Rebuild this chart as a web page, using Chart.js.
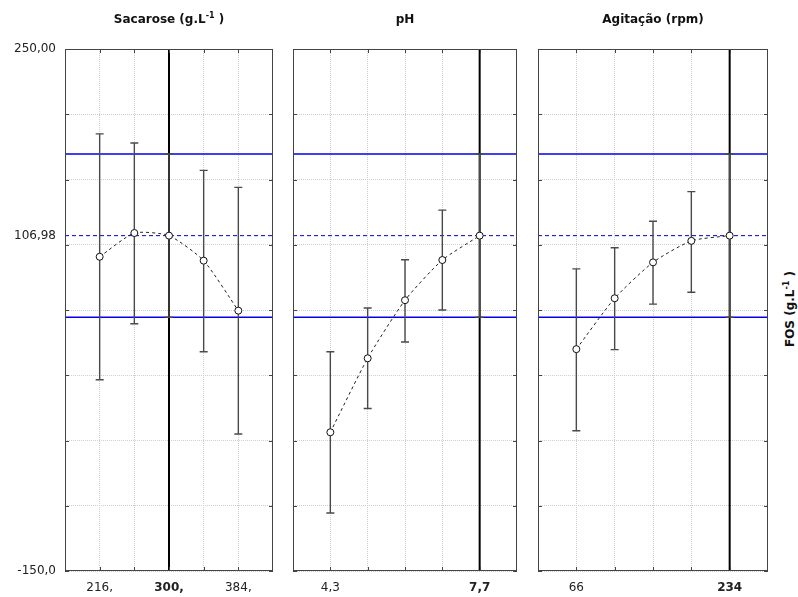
<!DOCTYPE html>
<html>
<head>
<meta charset="utf-8">
<script src="https://cdn.jsdelivr.net/npm/chart.js@4.4.1/dist/chart.umd.min.js"></script>
<style>
  body { margin: 0; background: #fff; }
  #wrap { position: relative; width: 798px; height: 597px; font-family: "DejaVu Sans", sans-serif; }
  #wrap canvas { position: absolute; top: 0; }
  .ttl { position: absolute; top: 12px; font-weight: bold; font-size: 12px; color: #111; text-align: center; white-space: nowrap; }
  .ttl sup { font-size: 8px; vertical-align: 5px; line-height: 0; }
  #ylab { position: absolute; left: 790px; top: 309px; transform: translate(-50%, -50%) rotate(-90deg); font-weight: bold; font-size: 12px; color: #111; white-space: nowrap; }
  #ylab sup { font-size: 8px; vertical-align: 5px; line-height: 0; }
</style>
</head>
<body>
<div id="wrap">
  <canvas id="c1" width="276" height="597" style="left:0px"></canvas>
  <canvas id="c2" width="230" height="597" style="left:290px"></canvas>
  <canvas id="c3" width="236" height="597" style="left:535px"></canvas>
  <div class="ttl" style="left:65px;width:208px">Sacarose (g.L<sup>-1</sup> )</div>
  <div class="ttl" style="left:293px;width:224px">pH</div>
  <div class="ttl" style="left:538px;width:230px">Agitação (rpm)</div>
  <div id="ylab">FOS (g.L<sup>-1</sup> )</div>
</div>
<script>
// Data
const yMin = -150, yMax = 250;
const yGrid = [-150, -100, -50, 0, 50, 100, 150, 200, 250];
const yLabels = { 250: '250,00', 106.98: '106,98', '-150': '-150,0' };
const fosMean = 106.98;
const ciUpper = 169.5;
const ciLower = 44.5;

// Sacarose (g.L-1)
const sacX = [216, 258, 300, 342, 384];
const sacY = [90.8, 109, 106.98, 87.8, 49.5];
const sacHi = [185, 178, 169.5, 157, 144];
const sacLo = [-3.5, 39.5, 44.5, 18, -45];
const sacLabels = { 216: '216,', 300: '300,', 384: '384,' };

// pH
const phX = [4.3, 5.15, 6.0, 6.85, 7.7];
const phY = [-43.7, 13, 57.5, 88.3, 106.98];
const phHi = [18, 51.5, 88.5, 126.5, 169.5];
const phLo = [-105.5, -25.5, 25.5, 50, 44.5];
const phLabels = { 4.3: '4,3', 7.7: '7,7' };

// Agitação (rpm)
const agiX = [66, 108, 150, 192, 234];
const agiY = [20, 59, 86.5, 103, 106.98];
const agiHi = [81.5, 97.7, 118, 140.7, 169.5];
const agiLo = [-42.5, 19.6, 54.5, 63.6, 44.5];
const agiLabels = { 66: '66', 234: '234' };

const FONT = '"DejaVu Sans", sans-serif';

// frame + inward tick marks
const framePlugin = {
  id: 'frame',
  afterDraw(chart) {
    const { ctx, chartArea: a, scales: { x, y } } = chart;
    ctx.save();
    ctx.strokeStyle = '#444';
    ctx.lineWidth = 1;
    ctx.strokeRect(a.left + 0.5, a.top + 0.5, a.right - a.left - 1, a.bottom - a.top - 1);
    ctx.beginPath();
    yGrid.forEach(v => {
      const py = Math.round(y.getPixelForValue(v)) + 0.5;
      ctx.moveTo(a.left, py); ctx.lineTo(a.left + 4, py);
      ctx.moveTo(a.right - 4, py); ctx.lineTo(a.right, py);
    });
    chart.options.xVals.forEach(v => {
      const px = Math.round(x.getPixelForValue(v)) + 0.5;
      ctx.moveTo(px, a.top); ctx.lineTo(px, a.top + 4);
      ctx.moveTo(px, a.bottom - 4); ctx.lineTo(px, a.bottom);
    });
    ctx.stroke();
    ctx.restore();
  }
};

// error bars, drawn right after the current-level line (dataset 1)
const errPlugin = {
  id: 'errbars',
  afterDatasetDraw(chart, args) {
    if (args.index !== 1) return;
    const { ctx, scales: { x, y } } = chart;
    const o = chart.options;
    ctx.save();
    ctx.strokeStyle = '#4a4a4a';
    ctx.lineWidth = 1.4;
    ctx.beginPath();
    o.xVals.forEach((v, i) => {
      const px = x.getPixelForValue(v);
      const hi = y.getPixelForValue(o.hi[i]);
      const lo = y.getPixelForValue(o.lo[i]);
      ctx.moveTo(px, hi); ctx.lineTo(px, lo);
      ctx.moveTo(px - 4, hi); ctx.lineTo(px + 4, hi);
      ctx.moveTo(px - 4, lo); ctx.lineTo(px + 4, lo);
    });
    ctx.stroke();
    ctx.restore();
  }
};

function panel(id, xs, ys, hi, lo, labels, current, showY) {
  const step = xs[1] - xs[0];
  const xmin = xs[0] - step, xmax = xs[xs.length - 1] + step;
  const hline = (v) => [{ x: xmin, y: v }, { x: xmax, y: v }];
  new Chart(document.getElementById(id), {
    type: 'line',
    data: {
      datasets: [
        {
          data: xs.map((v, i) => ({ x: v, y: ys[i] })),
          borderColor: '#222', borderWidth: 1, borderDash: [3, 3], tension: 0.2,
          pointRadius: 3.5, pointBorderColor: '#111', pointBackgroundColor: '#fff', pointBorderWidth: 1
        },
        {
          data: [{ x: current, y: yMin }, { x: current, y: yMax }],
          borderColor: '#000', borderWidth: 2, pointRadius: 0
        },
        {
          data: hline(fosMean), borderColor: '#0000cc', borderWidth: 1, borderDash: [4, 3], pointRadius: 0
        },
        { data: hline(ciUpper), borderColor: '#0000ee', borderWidth: 1.5, pointRadius: 0 },
        { data: hline(ciLower), borderColor: '#0000ee', borderWidth: 1.5, pointRadius: 0 }
      ]
    },
    options: {
      responsive: false,
      animation: false,
      xVals: xs, hi: hi, lo: lo,
      layout: { autoPadding: false, padding: { top: 49, right: 3, bottom: 0, left: 0 } },
      plugins: { legend: { display: false }, tooltip: { enabled: false } },
      scales: {
        x: {
          type: 'linear', min: xmin, max: xmax,
          afterBuildTicks: s => { s.ticks = xs.map(v => ({ value: v })); },
          afterFit: s => { s.height = 26; },
          grid: { color: '#cfcfcf', lineWidth: 1, drawTicks: false },
          border: { display: false, dash: [1, 1] },
          ticks: {
            padding: 10, maxRotation: 0, autoSkip: false, color: '#222',
            callback: v => labels[v] || '',
            font: c => ({ family: FONT, size: 12, weight: c.tick && c.tick.value === current ? 'bold' : 'normal' })
          }
        },
        y: {
          type: 'linear', min: yMin, max: yMax,
          afterBuildTicks: s => {
            s.ticks = yGrid.concat([fosMean]).sort((a, b) => a - b).map(v => ({ value: v }));
          },
          afterFit: s => { s.width = showY ? 65 : 3; },
          grid: {
            color: c => (c.tick && c.tick.value === fosMean ? 'rgba(0,0,0,0)' : '#cfcfcf'),
            lineWidth: 1, drawTicks: false
          },
          border: { display: false, dash: [1, 1] },
          ticks: {
            display: showY, padding: 9, color: '#222',
            font: { family: FONT, size: 12 },
            callback: v => yLabels[v] || ''
          }
        }
      }
    },
    plugins: [errPlugin, framePlugin]
  });
}

panel('c1', sacX, sacY, sacHi, sacLo, sacLabels, 300, true);
panel('c2', phX, phY, phHi, phLo, phLabels, 7.7, false);
panel('c3', agiX, agiY, agiHi, agiLo, agiLabels, 234, false);
</script>
</body>
</html>
